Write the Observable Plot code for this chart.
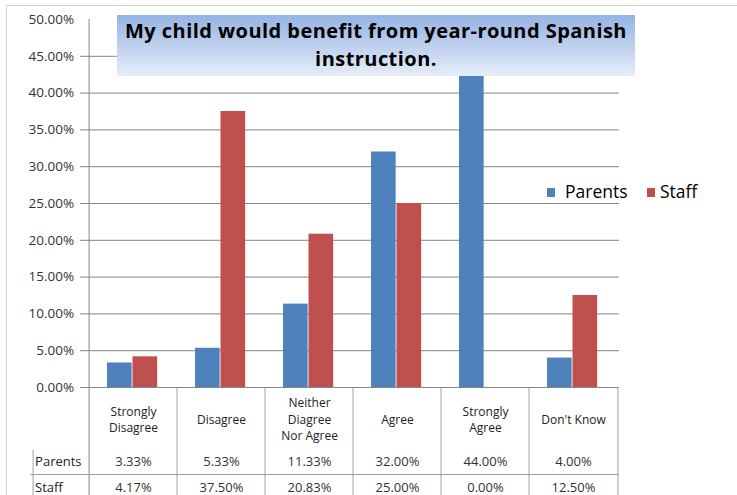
<!DOCTYPE html>
<html><head><meta charset="utf-8">
<script src="https://cdn.jsdelivr.net/npm/d3@7"></script>
<script src="https://cdn.jsdelivr.net/npm/@observablehq/plot@0.6"></script>
<style>
body{margin:0;background:#fff;}
#wrap{position:relative;width:737px;height:495px;overflow:hidden;font-family:"Open Sans","DejaVu Sans",sans-serif;}
#border{position:absolute;left:6px;top:5px;right:-2px;bottom:-2px;border-top:1px solid #d4d4d4;border-left:1px solid #d4d4d4;pointer-events:none;}
#chart{position:absolute;left:0;top:0;}
#title{position:absolute;left:117px;top:15px;width:518px;height:61px;background:linear-gradient(#95b3e3,#e6edf8);font-weight:bold;font-size:20px;letter-spacing:0.45px;text-align:center;line-height:28px;padding-top:2px;box-sizing:border-box;color:#000;white-space:nowrap;}
.lg-sw{position:absolute;width:8px;height:9px;}
.lg-tx{position:absolute;font-size:17.5px;line-height:20px;color:#000;}
</style></head>
<body>
<div id="wrap">
  <div id="border"></div>
  <div id="chart"></div>
  <div id="title">My child would benefit from year-round Spanish<br>instruction.</div>
  <div id="legend"></div>
</div>
<script>
const categories = ["Strongly Disagree","Disagree","Neither Diagree Nor Agree","Agree","Strongly Agree","Don't Know"];
const categoryLabels = ["Strongly\nDisagree","Disagree","Neither\nDiagree\nNor Agree","Agree","Strongly\nAgree","Don't Know"];
const seriesNames = ["Parents","Staff"];
const parents = [0.0333,0.0533,0.1133,0.32,0.44,0.04];
const staff = [0.0417,0.375,0.2083,0.25,0.0,0.125];
const seriesColors = ["#4f81bd","#c0504d"];
const yTicks = [0,0.05,0.10,0.15,0.20,0.25,0.30,0.35,0.40,0.45,0.50];

const W = 737, H = 495, mL = 86, mR = 118, mT = 19, mB = 108;
const bw = (W - mL - mR) / categories.length;
const pxPerUnit = (H - mT - mB) / 0.5;
const below = px => -px / pxPerUnit;   // y value that sits px pixels under the zero line
const yBottom = below(mB);
const first = () => categories[0];

const rows = categories.flatMap((c, i) => [
  {category: c, series: "Parents", value: parents[i]},
  {category: c, series: "Staff", value: staff[i]}
]);
const fmt = d3.format(".2%");
const barW = 25.5, gapL = 18;
const FONT = "'Open Sans', 'DejaVu Sans', sans-serif";

const chart = Plot.plot({
  width: W, height: H,
  marginLeft: mL, marginRight: mR, marginTop: mT, marginBottom: mB,
  style: {fontFamily: FONT, fontSize: "13px", background: "transparent"},
  x: {type: "band", domain: categories, padding: 0, axis: null},
  y: {domain: [0, 0.5], axis: null},
  marks: [
    // gridlines with their ticks
    Plot.ruleY(yTicks.filter(t => t < 0.5), {stroke: "#868686", insetLeft: -6}),
    // bars
    Plot.barY(rows.filter(d => d.series === "Parents"), {x: "category", y: "value", fill: seriesColors[0], insetLeft: gapL, insetRight: bw - gapL - barW}),
    Plot.barY(rows.filter(d => d.series === "Staff"), {x: "category", y: "value", fill: seriesColors[1], insetLeft: gapL + barW, insetRight: bw - gapL - 2 * barW}),
    // y axis line
    Plot.ruleX([categories[0]], {dx: -bw / 2, y1: 0.5, y2: yBottom, stroke: "#868686"}),
    // table vertical lines
    Plot.ruleX(categories.slice(1), {x: d => d, dx: -bw / 2, y1: 0, y2: yBottom, stroke: "#a0a0a0"}),
    Plot.ruleX([categories[categories.length - 1]], {dx: bw / 2, y1: 0, y2: yBottom, stroke: "#a0a0a0"}),
    Plot.ruleX([categories[0]], {dx: -bw / 2 - 56, y1: below(63), y2: yBottom, stroke: "#a0a0a0"}),
    // table horizontal line between Parents and Staff rows
    Plot.ruleY([below(87)], {stroke: "#a0a0a0", insetLeft: -56}),
    // y tick labels
    Plot.text(yTicks, {x: first, y: d => d, dx: -bw / 2 - 15, text: d => fmt(d), textAnchor: "end", fill: "#333", fontSize: 13.5, letterSpacing: "0.3px"}),
    // category labels
    Plot.text(categories, {x: d => d, y: 0, dy: 31, text: (d, i) => categoryLabels[i], lineAnchor: "middle", lineHeight: 1.37, fill: "#222", fontSize: 12, letterSpacing: "0.4px"}),
    // row headers
    Plot.text(["Parents"], {x: first, y: below(74), dx: -bw / 2 - 54, text: d => d, textAnchor: "start", fill: "#222", fontSize: 13}),
    Plot.text(["Staff"], {x: first, y: below(100), dx: -bw / 2 - 54, text: d => d, textAnchor: "start", fill: "#222", fontSize: 13}),
    // table values
    Plot.text(categories, {x: d => d, y: below(74), text: (d, i) => fmt(parents[i]), fill: "#333", fontSize: 13}),
    Plot.text(categories, {x: d => d, y: below(100), text: (d, i) => fmt(staff[i]), fill: "#333", fontSize: 13})
  ]
});
document.getElementById("chart").appendChild(chart);

// legend
const legend = document.getElementById("legend");
const lgPos = [{sx: 547, tx: 565}, {sx: 647, tx: 660}];
seriesNames.forEach((s, i) => {
  const sw = document.createElement("div");
  sw.className = "lg-sw";
  sw.style.left = lgPos[i].sx + "px"; sw.style.top = "188px"; sw.style.background = seriesColors[i];
  legend.appendChild(sw);
  const tx = document.createElement("div");
  tx.className = "lg-tx";
  tx.style.left = lgPos[i].tx + "px"; tx.style.top = "181px";
  tx.textContent = s;
  legend.appendChild(tx);
});
</script>
</body></html>
